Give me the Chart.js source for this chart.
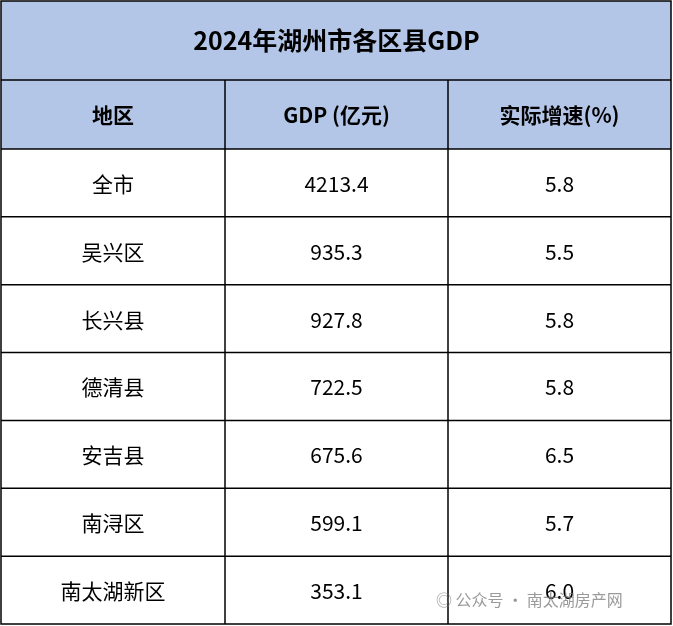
<!DOCTYPE html>
<html>
<head>
<meta charset="utf-8">
<script src="https://cdn.jsdelivr.net/npm/chart.js@4/dist/chart.umd.min.js"></script>
<style>
html, body { margin: 0; padding: 0; background: #fff; }
#wrap { width: 673px; height: 626px; }
</style>
</head>
<body>
<div id="wrap"><canvas id="tbl"></canvas></div>
<script>
const title = '2024年湖州市各区县GDP';
const headers = ['地区', 'GDP (亿元)', '实际增速(%)'];
const regions = ['全市', '吴兴区', '长兴县', '德清县', '安吉县', '南浔区', '南太湖新区'];
const gdpValues = ['4213.4', '935.3', '927.8', '722.5', '675.6', '599.1', '353.1'];
const growthValues = ['5.8', '5.5', '5.8', '5.8', '6.5', '5.7', '6.0'];

const FONT = '"Noto Sans CJK SC", "Noto Sans", sans-serif';

// draws the table on the chart canvas
const tablePlugin = {
	id: 'tablePlugin',
	afterDraw(chart) {
		const ctx = chart.ctx;
		const W = chart.width, H = chart.height;
		const left = 1, right = W - 2, top = 1, bottom = H - 2;
		const colX = [left, 225, 448, right];
		const rowY = [top, 80, 149];
		const bodyH = (bottom - 149) / regions.length;
		for (let i = 1; i <= regions.length; i++) rowY.push(149 + bodyH * i);

		ctx.save();
		ctx.fillStyle = '#b4c6e7';
		ctx.fillRect(left, top, right - left, rowY[2] - top);

		ctx.strokeStyle = '#000';
		ctx.lineWidth = 1.5;
		ctx.strokeRect(left, top, right - left, bottom - top);
		rowY.slice(1, -1).forEach(y => {
			ctx.beginPath(); ctx.moveTo(left, y); ctx.lineTo(right, y); ctx.stroke();
		});
		[colX[1], colX[2]].forEach(x => {
			ctx.beginPath(); ctx.moveTo(x, rowY[1]); ctx.lineTo(x, bottom); ctx.stroke();
		});

		ctx.fillStyle = '#000';
		ctx.textAlign = 'center';
		ctx.textBaseline = 'middle';
		ctx.font = 'bold 25px ' + FONT;
		ctx.fillText(title, W / 2, (rowY[0] + rowY[1]) / 2);

		ctx.font = 'bold 21px ' + FONT;
		headers.forEach((h, c) => ctx.fillText(h, (colX[c] + colX[c + 1]) / 2, (rowY[1] + rowY[2]) / 2 + 1));

		ctx.font = '21px ' + FONT;
		regions.forEach((r, i) => {
			const cy = (rowY[i + 2] + rowY[i + 3]) / 2 + 1;
			[r, gdpValues[i], growthValues[i]].forEach((v, c) => {
				ctx.fillText(v, (colX[c] + colX[c + 1]) / 2, cy);
			});
		});

		// watermark
		ctx.font = '16px ' + FONT;
		ctx.textAlign = 'left';
		ctx.fillStyle = 'rgba(120,120,120,0.75)';
		ctx.fillText('◎ 公众号 · 南太湖房产网', 436, 600);
		ctx.restore();
	}
};

new Chart(document.getElementById('tbl'), {
	type: 'bar',
	data: { labels: regions, datasets: [] },
	options: {
		responsive: true,
		maintainAspectRatio: false,
		animation: false,
		events: [],
		scales: { x: { display: false }, y: { display: false } },
		plugins: { legend: { display: false }, tooltip: { enabled: false } }
	},
	plugins: [tablePlugin]
});
</script>
</body>
</html>
